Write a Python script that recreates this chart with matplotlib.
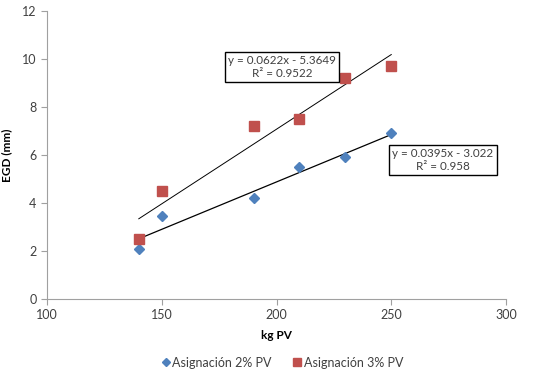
import numpy as np
import matplotlib.pyplot as plt

plt.rcParams['font.family'] = ['Lato', 'DejaVu Sans']

# Datos (kg PV vs EGD mm)
x = [140, 150, 190, 210, 230, 250]
egd_2 = [2.07, 3.47, 4.22, 5.5, 5.9, 6.9]
egd_3 = [2.5, 4.5, 7.2, 7.5, 9.2, 9.7]

# Líneas de tendencia (como las muestra la hoja de cálculo)
m2, b2, r2_2 = 0.0395, -3.022, 0.958
m3, b3, r2_3 = 0.0622, -5.3649, 0.9522

fig = plt.figure(figsize=(5.42, 3.76), dpi=100)
ax = fig.add_axes([0.0867, 0.2048, 0.8469, 0.7659])

azul = '#4F81BD'
rojo = '#C0504D'

xs = np.array([min(x), max(x)])
ax.plot(xs, m3 * xs + b3, color='black', lw=0.7, zorder=2)
ax.plot(xs, m2 * xs + b2, color='black', lw=0.9, zorder=2)

ax.plot(x, egd_2, 'D', color=azul, markersize=5.3, label='Asignación 2% PV', zorder=3)
ax.plot(x, egd_3, 's', color=rojo, markersize=7, label='Asignación 3% PV', zorder=3)

caja = dict(boxstyle='square,pad=0.3', fc='white', ec='black', lw=1)
ax.text(202.4, 9.67, f'y = {m3}x - {abs(b3)}\nR² = {r2_3}', ha='center', va='center',
        fontsize=8.4, color='#404040', bbox=caja, linespacing=1.2, zorder=4)
ax.text(272.5, 5.79, f'y = {m2}x - {abs(b2)}\nR² = {r2_2}', ha='center', va='center',
        fontsize=8.4, color='#404040', bbox=caja, linespacing=1.2, zorder=4)

ax.set_xlim(100, 300)
ax.set_ylim(0, 12)
ax.set_xticks([100, 150, 200, 250, 300])
ax.set_yticks([0, 2, 4, 6, 8, 10, 12])
ax.set_xlabel('kg PV', fontsize=8.5, fontweight='bold', labelpad=6)
ax.set_ylabel('EGD (mm)', fontsize=8.5, fontweight='bold')
ax.yaxis.set_label_coords(-0.075, 0.5)

for s in ['top', 'right']:
    ax.spines[s].set_visible(False)
for s in ['left', 'bottom']:
    ax.spines[s].set_color('#A0A0A0')
    ax.spines[s].set_linewidth(0.8)
ax.tick_params(colors='#A0A0A0', labelcolor='#404040', labelsize=9, length=4, width=0.8)

fig.legend(loc='lower center', bbox_to_anchor=(0.52, -0.01), ncol=2, frameon=False,
           fontsize=9, handletextpad=0.05, columnspacing=1.6, handlelength=0.9,
           markerscale=0.8, labelcolor='#404040')

fig.savefig('out.png', dpi=100)
